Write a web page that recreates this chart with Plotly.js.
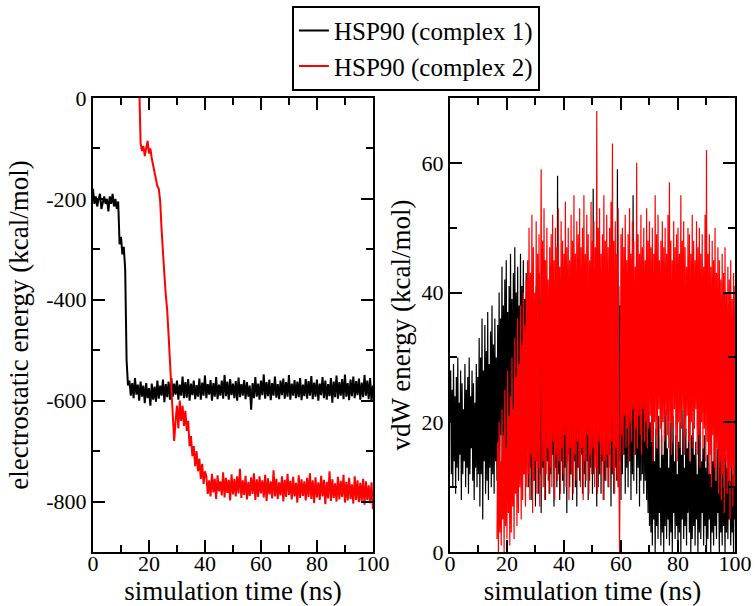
<!DOCTYPE html>
<html>
<head>
<meta charset="utf-8">
<script src="https://cdn.plot.ly/plotly-3.0.1.min.js"></script>
<style>html,body{margin:0;padding:0;background:#fff;}#chart{width:756px;height:606px;}</style>
</head>
<body>
<div id="chart"></div>
<script>
// ---- data ----
const seriesNames = ["HSP90 (complex 1)", "HSP90 (complex 2)"];
const elecStep = 0.5;   // ns between samples, electrostatic panel
const vdwStep = 0.25;   // ns between samples, vdW panel
const complex1Start = 0;
const complex2Start = 16.5;

// electrostatic energy (kcal/mol), complex 1, t = 0 .. 100 ns every 0.5 ns
const elecComplex1 = [
  -180,-210,-195,-215,-200,-190,-220,-205,-195,-210,
  -200,-225,-195,-210,-190,-215,-200,-220,-205,-290,
  -275,-310,-295,-340,-520,-570,
  -560,-590,-565,-595,-555,-588,-568,-600,-562,-592,
  -570,-605,-565,-595,-575,-610,-566,-598,-572,-602,
  -560,-596,-570,-590,-558,-603,-567,-593,-562,-598,
  -555,-592,-566,-588,-560,-598,-568,-590,-552,-595,
  -563,-594,-557,-600,-566,-589,-560,-597,-569,-592,
  -556,-598,-564,-590,-550,-595,-567,-588,-559,-600,
  -565,-592,-553,-597,-568,-590,-560,-596,-549,-591,
  -562,-598,-557,-589,-566,-595,-561,-600,-554,-593,
  -567,-590,-559,-597,-563,-592,-570,-618,-565,-595,
  -553,-592,-566,-598,-560,-589,-548,-596,-563,-591,
  -558,-599,-565,-590,-552,-594,-567,-597,-560,-589,
  -556,-596,-563,-592,-549,-598,-566,-590,-559,-595,
  -562,-593,-555,-599,-568,-591,-557,-596,-561,-590,
  -551,-597,-564,-592,-558,-600,-566,-589,-553,-595,
  -560,-598,-567,-591,-555,-604,-562,-593,-550,-596,
  -563,-590,-557,-597,-548,-592,-565,-599,-558,-591,
  -552,-595,-561,-589,-556,-598,-564,-593,-549,-590,
  -560,-597,-555,-602,-570
];

// electrostatic energy (kcal/mol), complex 2, t = 16.5 .. 100 ns every 0.5 ns
const elecComplex2 = [
  30,-90,-105,-95,-115,-100,-85,-110,-100,-120,
  -135,-150,-165,-175,-180,-205,-260,-320,-350,-390,
  -420,-470,-520,-560,
  -620,-680,-640,-610,-655,-600,-640,-610,-650,-620,
  -660,-640,-690,-670,-710,-690,-730,-700,-740,-715,
  -755,-725,-765,-740,
  -750,-785,-758,-790,-745,-782,-755,-795,-748,-780,
  -760,-788,-742,-792,-753,-783,-757,-798,-746,-786,
  -755,-790,-750,-784,-735,-793,-758,-787,-749,-796,
  -761,-789,-752,-785,-744,-797,-756,-791,-750,-784,
  -758,-792,-747,-799,-754,-786,-760,-794,-738,-790,
  -755,-795,-762,-788,-750,-800,-757,-791,-745,-787,
  -759,-796,-751,-790,-763,-802,-748,-793,-756,-789,
  -760,-798,-753,-791,-744,-795,-758,-803,-752,-792,
  -762,-797,-749,-790,-757,-805,-761,-794,-740,-799,
  -756,-793,-764,-800,-751,-796,-759,-791,-747,-802,
  -761,-798,-753,-795,-766,-804,-750,-797,-758,-801,
  -763,-799,-755,-806,-760,-797,-768,-803,-762,-815
];

// vdW energy (kcal/mol), complex 1, t = 0 .. 100 ns every 0.25 ns
const vdwComplex1 = [
  20,28,12,25,10,29,14,24,9,27,13,30,11,23,15,28,8,26,12,22,
  14,29,10,25,13,27,9,30,12,24,16,28,11,26,8,23,13,29,10,27,
  12,
  33,7,30,12,36,5,28,14,35,9,31,11,37,8,29,13,34,10,38,12,
  32,9,36,14,30,11,35,10,
  40,14,36,18,44,12,38,16,42,11,45,15,37,19,41,13,46,17,39,12,
  43,16,47,13,40,18,44,15,38,20,46,14,41,17,45,12,39,19,43,16,
  40,10,37,13,42,8,35,15,44,11,38,7,41,14,36,9,43,12,39,6,
  42,13,37,10,45,8,38,14,40,11,36,9,44,12,39,15,41,7,37,13,
  43,10,58,12,38,8,42,14,36,11,44,9,39,13,41,6,37,15,43,10,
  40,12,45,8,36,14,42,10,38,7,44,13,39,11,41,15,37,9,43,12,
  36,10,42,14,38,8,40,11,37,13,44,9,56,12,39,15,41,7,45,10,
  38,12,43,9,36,14,41,8,44,11,39,13,37,10,42,15,40,7,45,12,
  39,9,43,13,37,11,59,10,41,14,38,8,44,12,36,15,42,9,40,13,
  41,10,37,14,43,8,39,12,55,11,38,15,42,9,36,13,40,7,44,11,
  38,12,35,9,32,11,30,8,28,6,25,4,
  20,3,17,1,22,5,14,0,19,4,16,2,21,6,13,1,18,3,15,0,
  19,4,22,2,16,5,13,1,20,3,17,0,21,6,14,2,18,4,12,1,
  17,3,20,0,15,5,22,2,13,4,19,1,16,6,21,3,14,0,18,2,
  20,4,15,1,17,5,12,0,19,3,22,2,14,6,16,1,18,4,13,0,
  15,2,19,5,12,0,17,3,14,1,20,4,11,2,16,6,13,0,18,3,
  12,1,16,4,10,0,15,3,13,2,17,5,11,1,14,3,12,0,15,5
];

// vdW energy (kcal/mol), complex 2, t = 16.5 .. 100 ns every 0.25 ns
const vdwComplex2 = [
  2,17,0,20,3,14,1,22,5,18,0,25,4,16,2,28,6,21,1,24,
  3,30,7,22,2,33,9,27,4,36,6,29,10,38,5,32,8,40,12,35,
  7,42,10,
  45,12,50,8,43,15,52,6,47,11,40,14,51,9,46,13,49,7,44,59,
  10,48,14,53,8,45,12,50,16,42,9,47,
  13,49,10,52,17,45,8,50,15,47,11,53,14,44,9,51,16,48,12,46,
  18,54,10,47,14,50,8,45,16,52,12,48,9,55,15,46,11,51,17,49,
  13,53,10,47,16,50,8,55,14,46,11,52,18,49,9,45,15,54,12,48,
  16,51,10,47,13,68,9,50,17,53,12,46,15,49,8,55,14,48,11,52,
  15,47,10,50,13,54,17,63,12,48,9,51,16,46,11,53,14,0,18,49,
  18,50,15,47,21,52,16,45,19,49,14,53,20,46,17,51,22,48,15,44,
  19,60,16,49,21,46,18,52,15,47,22,50,17,45,20,53,16,48,19,51,
  21,47,17,50,14,46,20,55,18,49,16,52,22,45,19,48,15,51,20,47,
  17,50,21,46,18,52,16,57,20,48,15,45,19,51,22,47,17,49,14,50,
  20,46,16,55,19,48,22,51,15,47,18,44,21,50,17,49,14,46,20,52,
  16,48,19,45,22,51,15,47,18,50,13,46,20,49,16,44,19,52,14,62,
  17,46,12,49,15,44,10,48,18,45,13,50,11,43,16,47,9,45,14,42,
  8,46,12,43,6,47,14,40,9,44,11,42,5,45,13,39,7,43,10,41
];

// axis ticks
const timeTicks = [0, 20, 40, 60, 80, 100];
const timeTickText = ["0", "20", "40", "60", "80", "100"];
const elecTicks = [-800, -600, -400, -200, 0];
const elecTickText = ["-800", "-600", "-400", "-200", "0"];
const vdwTicks = [0, 20, 40, 60];
const vdwTickText = ["0", "20", "40", "60"];

function times(start, step, n) {
  return Array.from({length: n}, (_, i) => start + i * step);
}

const black = "#000000";
const red = "#ff0000";

const traces = [
  {x: times(complex1Start, elecStep, elecComplex1.length), y: elecComplex1, name: seriesNames[0], type: "scatter", mode: "lines",
   line: {color: black, width: 2}, xaxis: "x", yaxis: "y"},
  {x: times(complex2Start, elecStep, elecComplex2.length), y: elecComplex2, name: seriesNames[1], type: "scatter", mode: "lines",
   line: {color: red, width: 2}, xaxis: "x", yaxis: "y"},
  {x: times(complex1Start, vdwStep, vdwComplex1.length), y: vdwComplex1, name: seriesNames[0], type: "scatter", mode: "lines",
   line: {color: black, width: 1.2}, xaxis: "x2", yaxis: "y2", showlegend: false},
  {x: times(complex2Start, vdwStep, vdwComplex2.length), y: vdwComplex2, name: seriesNames[1], type: "scatter", mode: "lines",
   line: {color: red, width: 1.2}, xaxis: "x2", yaxis: "y2", showlegend: false}
];

const serif = "'Liberation Serif', 'DejaVu Serif', serif";
const tickFont = {family: serif, size: 22, color: black};
const titleFont = {family: serif, size: 27, color: black};

function axisBase() {
  return {
    showline: true, linecolor: black, linewidth: 2, mirror: "ticks",
    ticks: "inside", ticklen: 12, tickwidth: 2, tickcolor: black,
    showgrid: false, zeroline: false, tickfont: tickFont, fixedrange: true
  };
}
const minorTicks = (d) => ({dtick: d, tick0: 0, ticks: "inside", ticklen: 7, tickwidth: 2, tickcolor: black});

const layout = {
  width: 756, height: 606,
  margin: {l: 93, r: 21, t: 98, b: 54, autoexpand: false},
  paper_bgcolor: "#ffffff", plot_bgcolor: "#ffffff",
  font: {family: serif, color: black},
  showlegend: true,
  legend: {
    x: 0.503, xanchor: "center", y: 1.203, yanchor: "top",
    bordercolor: black, borderwidth: 2, bgcolor: "#ffffff",
    font: {family: serif, size: 25, color: black},
    tracegroupgap: 0, itemwidth: 30
  },
  xaxis: Object.assign(axisBase(), {
    domain: [0, 0.436], anchor: "y", range: [0, 100],
    tickmode: "array", tickvals: timeTicks, ticktext: timeTickText,
    ticklabelstandoff: -9, minor: minorTicks(10),
    title: {text: "simulation time (ns)", font: titleFont, standoff: 0}
  }),
  yaxis: Object.assign(axisBase(), {
    domain: [0, 1], anchor: "x", range: [-900, 0],
    tickmode: "array", tickvals: elecTicks, ticktext: elecTickText,
    minor: minorTicks(100),
    title: {text: "electrostatic energy (kcal/mol)", font: titleFont, standoff: 10}
  }),
  xaxis2: Object.assign(axisBase(), {
    domain: [0.556, 1], anchor: "y2", range: [0, 100],
    tickmode: "array", tickvals: timeTicks, ticktext: timeTickText,
    ticklabelstandoff: -9, minor: minorTicks(10),
    title: {text: "simulation time (ns)", font: titleFont, standoff: 0}
  }),
  yaxis2: Object.assign(axisBase(), {
    domain: [0, 1], anchor: "x2", range: [0, 70],
    tickmode: "array", tickvals: vdwTicks, ticktext: vdwTickText,
    minor: minorTicks(10),
    title: {text: "vdW energy (kcal/mol)", font: titleFont, standoff: 3}
  })
};

Plotly.newPlot("chart", traces, layout, {staticPlot: true, displayModeBar: false});
</script>
</body>
</html>
